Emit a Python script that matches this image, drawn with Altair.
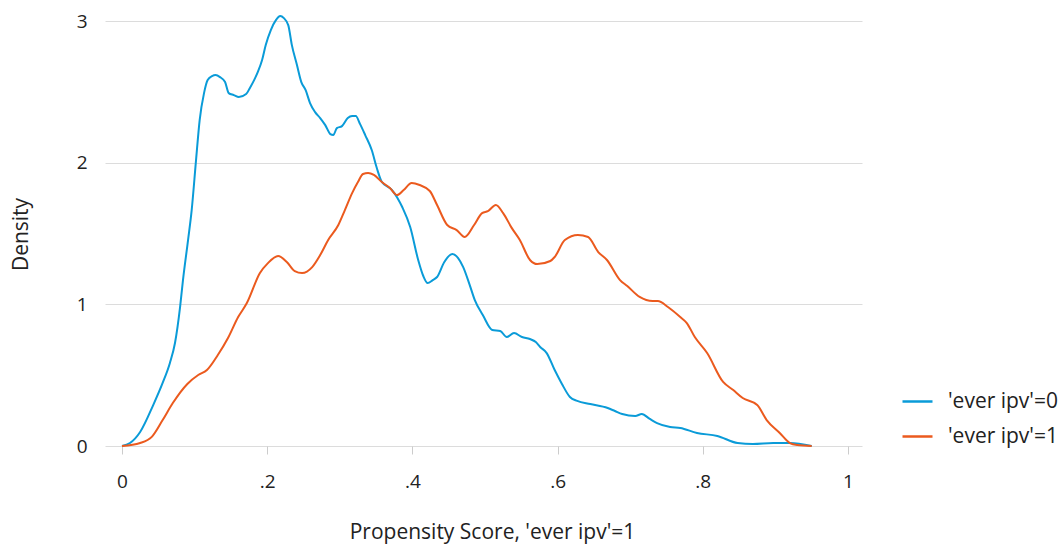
import altair as alt
import pandas as pd

# Kernel density of propensity score, by group
blue_x = [0.000, 0.011, 0.025, 0.043, 0.056, 0.066, 0.073, 0.080, 0.084, 0.091, 0.096, 0.102,
          0.107, 0.113, 0.118, 0.124, 0.129, 0.135, 0.142, 0.147, 0.154, 0.161, 0.171, 0.176,
          0.182, 0.187, 0.193, 0.198, 0.205, 0.212, 0.218, 0.223, 0.229, 0.234, 0.241, 0.247,
          0.253, 0.259, 0.266, 0.273, 0.280, 0.287, 0.291, 0.296, 0.303, 0.311, 0.317, 0.322,
          0.328, 0.335, 0.344, 0.351, 0.358, 0.372, 0.386, 0.397, 0.408, 0.415, 0.421, 0.428,
          0.434, 0.444, 0.455, 0.463, 0.470, 0.479, 0.486, 0.497, 0.510, 0.521, 0.530, 0.540,
          0.551, 0.562, 0.570, 0.576, 0.585, 0.596, 0.606, 0.617, 0.627, 0.645, 0.669, 0.679,
          0.689, 0.707, 0.716, 0.727, 0.737, 0.755, 0.769, 0.792, 0.820, 0.848, 0.869, 0.897,
          0.920, 0.950]
blue_y = [0.000, 0.021, 0.099, 0.289, 0.445, 0.586, 0.727, 0.981, 1.171, 1.454, 1.665, 2.018,
          2.301, 2.491, 2.583, 2.611, 2.618, 2.604, 2.569, 2.491, 2.477, 2.463, 2.484, 2.526,
          2.583, 2.639, 2.724, 2.830, 2.936, 3.006, 3.035, 3.020, 2.971, 2.830, 2.689, 2.569,
          2.512, 2.421, 2.357, 2.315, 2.265, 2.202, 2.195, 2.244, 2.258, 2.315, 2.329, 2.329,
          2.272, 2.195, 2.089, 1.962, 1.863, 1.807, 1.687, 1.546, 1.313, 1.200, 1.150, 1.171,
          1.193, 1.299, 1.355, 1.327, 1.263, 1.136, 1.030, 0.924, 0.819, 0.812, 0.769, 0.797,
          0.769, 0.755, 0.734, 0.699, 0.656, 0.536, 0.438, 0.346, 0.318, 0.296, 0.268, 0.247,
          0.226, 0.212, 0.226, 0.191, 0.162, 0.134, 0.127, 0.092, 0.071, 0.021, 0.014, 0.021,
          0.021, 0.000]

orange_x = [0.000, 0.025, 0.041, 0.056, 0.070, 0.090, 0.105, 0.117, 0.132, 0.146, 0.160, 0.172,
            0.190, 0.201, 0.215, 0.227, 0.238, 0.248, 0.262, 0.273, 0.284, 0.298, 0.307, 0.317,
            0.325, 0.332, 0.339, 0.347, 0.358, 0.369, 0.379, 0.388, 0.399, 0.410, 0.424, 0.434,
            0.448, 0.461, 0.472, 0.485, 0.496, 0.504, 0.515, 0.525, 0.537, 0.548, 0.562, 0.572,
            0.590, 0.596, 0.610, 0.628, 0.642, 0.656, 0.668, 0.686, 0.696, 0.713, 0.731, 0.738,
            0.752, 0.769, 0.778, 0.789, 0.806, 0.828, 0.842, 0.855, 0.875, 0.888, 0.906, 0.920,
            0.930, 0.950]
orange_y = [0.000, 0.021, 0.064, 0.183, 0.303, 0.438, 0.501, 0.536, 0.642, 0.762, 0.910, 1.009,
            1.221, 1.291, 1.341, 1.299, 1.235, 1.221, 1.263, 1.348, 1.454, 1.560, 1.665, 1.785,
            1.863, 1.920, 1.927, 1.913, 1.863, 1.821, 1.771, 1.807, 1.856, 1.842, 1.800, 1.701,
            1.560, 1.524, 1.475, 1.560, 1.644, 1.658, 1.701, 1.644, 1.538, 1.454, 1.313, 1.284,
            1.306, 1.334, 1.454, 1.489, 1.475, 1.369, 1.313, 1.171, 1.129, 1.052, 1.023, 1.023,
            0.981, 0.910, 0.868, 0.769, 0.656, 0.452, 0.395, 0.339, 0.289, 0.183, 0.092, 0.021,
            0.007, 0.000]

series_names = ["'ever ipv'=0", "'ever ipv'=1"]
series_colors = ["#0a9bd8", "#eb5a1e"]
x_ticks = [0, 0.2, 0.4, 0.6, 0.8, 1]
y_ticks = [0, 1, 2, 3]

df = pd.concat([
    pd.DataFrame({"x": blue_x, "y": blue_y, "group": series_names[0]}),
    pd.DataFrame({"x": orange_x, "y": orange_y, "group": series_names[1]}),
])

FONT = "Open Sans"
TXT = "#222222"

chart = alt.Chart(df).mark_line(strokeWidth=2, interpolate="monotone", clip=False).encode(
    x=alt.X("x:Q",
            scale=alt.Scale(domain=[-0.0234, 1.0193], nice=False, zero=False),
            axis=alt.Axis(values=x_ticks, grid=False, domain=False,
                          tickColor="#cccccc", tickSize=8, tickWidth=1,
                          labelExpr="datum.value == 0 ? '0' : datum.value == 1 ? '1' : replace(format(datum.value, '.1f'), '0.', '.')",
                          labelFont=FONT, labelFontSize=19, labelColor=TXT, labelPadding=18,
                          title="Propensity Score, 'ever ipv'=1",
                          titleFont=FONT, titleFontSize=21, titleFontWeight="normal",
                          titleColor=TXT, titleX=387, titleY=92, titleAlign="center",
                          titleBaseline="alphabetic")),
    y=alt.Y("y:Q",
            scale=alt.Scale(domain=[0, 3], nice=False),
            axis=alt.Axis(values=y_ticks, grid=True, gridColor="#dcdcdc", gridWidth=1,
                          domain=False, ticks=False, labelPadding=18,
                          labelFont=FONT, labelFontSize=19, labelColor=TXT,
                          title="Density", titleFont=FONT, titleFontSize=21,
                          titleFontWeight="normal", titleColor=TXT,
                          titleX=-84, titleY=213, titleAlign="center", titleBaseline="middle")),
    color=alt.Color("group:N",
                    scale=alt.Scale(domain=series_names, range=series_colors),
                    legend=alt.Legend(title=None, orient="none", legendX=796, legendY=364,
                                      symbolType="stroke", symbolSize=900, symbolStrokeWidth=2.5,
                                      labelFont=FONT, labelFontSize=21, labelColor=TXT,
                                      labelOffset=14, rowPadding=8, padding=0)),
).properties(
    width=757, height=425,
    autosize=alt.AutoSizeParams(type="none"),
    padding={"left": 105, "top": 21, "right": 202, "bottom": 98},
    background="white",
).configure_view(stroke=None)

chart.save("out.html", embed_options={"renderer": "svg", "actions": False})
